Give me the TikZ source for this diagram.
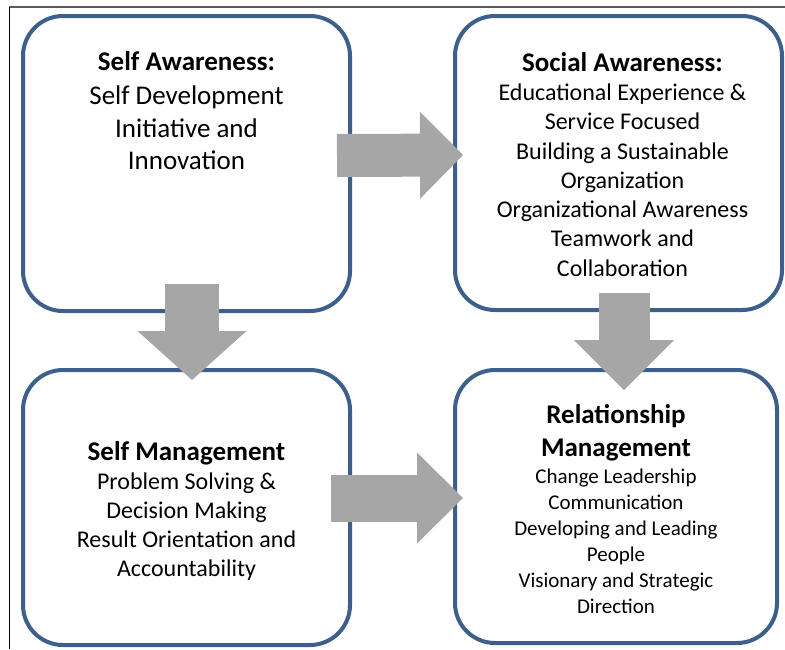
\documentclass[tikz,border=0pt]{standalone}
\usepackage{fontspec}
\setmainfont{Carlito}
\usepackage{tikz}
\usepackage{xcolor}
\usetikzlibrary{positioning, arrows.meta}
\definecolor{eqblue}{RGB}{60, 95, 140}
\definecolor{eqgray}{RGB}{166, 166, 166}
\definecolor{eqframe}{RGB}{90, 90, 90}
\tikzset{
    eqbox/.style={rectangle, rounded corners=40pt, draw=eqblue, line width=4pt, fill=white, minimum width=327pt},
    eqtext/.style={align=center, inner sep=0pt, anchor=north, text=black},
    eqarrow/.style n args={3}{draw=eqgray, line width=#1, -{Triangle[length=#2, width=#3, line width=0pt]}}
}
\newcommand{\eqtitle}[1]{{\fontsize{27}{32}\selectfont\bfseries #1}}

\begin{document}
\begin{tikzpicture}[x=1pt, y=-1pt]
                \useasboundingbox (0,0) rectangle (785,649);
                \draw[eqframe, line width=2pt] (9,7) -- (785,7);
                \draw[black, line width=1pt] (9,7) -- (9,649);

                \node[eqbox, minimum height=295pt] (sa) at (186.5,163.5) {};
                \node[eqbox, minimum height=294pt] (soa) at (618.5,163) {};
                \node[eqbox, minimum height=275pt] (sm) at (186.5,507.5) {};
                \node[eqbox, minimum height=273pt, minimum width=322pt] (rm) at (616,506.5) {};

                \node[eqtext, font=\fontsize{27}{32.5}\selectfont] (satext) at ([shift={(0,37)}]sa.north)
                    {\textbf{Self Awareness:}\\[2pt]Self Development\\Initiative and\\Innovation};
                \node[eqtext, font=\fontsize{24}{29.3}\selectfont] (soatext) at ([shift={(4,38)}]soa.north)
                    {\eqtitle{Social Awareness:}\\Educational Experience \&\\Service Focused\\Building a Sustainable\\Organization\\Organizational Awareness\\Teamwork and\\Collaboration};
                \node[eqtext, font=\fontsize{24}{29}\selectfont] (smtext) at ([shift={(0,73)}]sm.north)
                    {\eqtitle{Self Management}\\Problem Solving \&\\Decision Making\\Result Orientation and\\Accountability};
                \node[eqtext, font=\fontsize{21}{26}\selectfont] (rmtext) at ([shift={(0,36)}]rm.north)
                    {\eqtitle{Relationship}\\[7pt]\eqtitle{Management}\\[1pt]Change Leadership\\Communication\\Developing and Leading\\People\\Visionary and Strategic\\Direction};

                \draw[eqarrow={43pt}{43pt}{87pt}] ([shift={(-15,-8)}]sa.east) -- ([shift={(10,-8)}]soa.west);
                \draw[eqarrow={54pt}{49pt}{109pt}] ([shift={(5.5,-29)}]sa.south) -- ([shift={(5.5,12)}]sm.north);
                \draw[eqarrow={47pt}{46pt}{91pt}] ([shift={(-21,-9.5)}]sm.east) -- ([shift={(10,-8.5)}]rm.west);
                \draw[eqarrow={51pt}{50pt}{100pt}] ([shift={(5.5,-19)}]soa.south) -- ([shift={(8,22)}]rm.north);
            \end{tikzpicture}
\end{document}
